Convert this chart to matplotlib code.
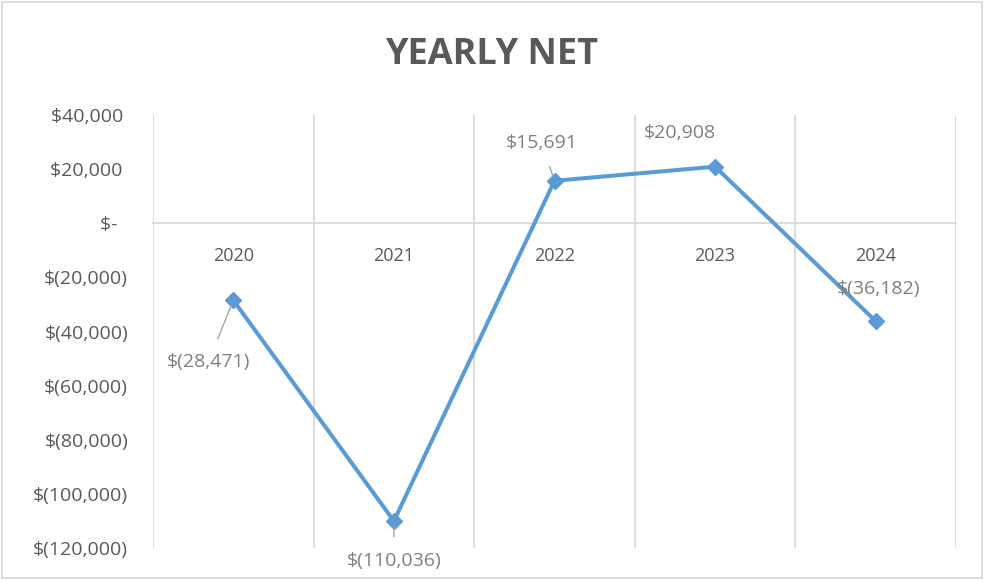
import matplotlib.pyplot as plt
from matplotlib.patches import Rectangle
from matplotlib.ticker import FuncFormatter, FixedLocator

plt.rcParams["font.family"] = ["Open Sans", "DejaVu Sans"]

years = ["2020", "2021", "2022", "2023", "2024"]
net = [-28471, -110036, 15691, 20908, -36182]
# label offsets (pixels) relative to each point, and whether a leader line is drawn
label_offsets = [(-25, -62), (0, -40), (-13, 38), (-35, 34), (3, 32)]
leader = [True, True, True, False, False]

line_blue = "#5B9BD5"
grid_gray = "#D9D9D9"
text_gray = "#595959"
label_gray = "#7F7F7F"


def money(v, pos=None):
    if v == 0:
        return "$-  "
    if v < 0:
        return "$({:,.0f})".format(-v)
    return "${:,.0f} ".format(v)


fig = plt.figure(figsize=(9.84, 5.8), dpi=100)
ax = fig.add_axes([153 / 984, 1 - 548 / 580, (956 - 153) / 984, (548 - 115) / 580])

x = list(range(len(years)))
ax.plot(x, net, color=line_blue, linewidth=2.9, marker="D", markersize=8,
        zorder=3, solid_joinstyle="miter")

for xi, v, off, ld in zip(x, net, label_offsets, leader):
    props = None
    if ld:
        props = dict(arrowstyle="-", color="#A6A6A6", lw=1, shrinkA=9, shrinkB=4)
    ax.annotate(money(v).strip(), xy=(xi, v), xytext=off, textcoords="offset pixels",
                ha="center", va="center", fontsize=14, color=label_gray,
                arrowprops=props, zorder=4)

ax.set_xlim(-0.5, len(years) - 0.5)
ax.set_ylim(-120000, 40000)
ax.yaxis.set_major_locator(FixedLocator(range(-120000, 40001, 20000)))
ax.yaxis.set_major_formatter(FuncFormatter(money))
ax.tick_params(axis="y", length=0, pad=18, labelsize=14, labelcolor=text_gray)

ax.set_xticks(x)
ax.set_xticklabels(years)
ax.set_xticks([i - 0.5 for i in range(len(years) + 1)], minor=True)
ax.tick_params(axis="x", which="both", length=0, pad=17, labelsize=13, labelcolor=text_gray)
ax.grid(True, which="minor", axis="x", color=grid_gray, linewidth=1.3)
ax.grid(False, which="major")

for s in ["left", "right", "top"]:
    ax.spines[s].set_visible(False)
ax.spines["bottom"].set_position(("data", 0))
ax.spines["bottom"].set_color(grid_gray)
ax.spines["bottom"].set_linewidth(1.3)
ax.set_axisbelow(True)

fig.text(0.5, 1 - 55 / 580, "YEARLY NET", ha="center", va="center",
         fontsize=26, fontweight="bold", color=text_gray)

fig.patches.append(Rectangle((2 / 984, 2 / 580), 980 / 984, 576 / 580,
                             transform=fig.transFigure, fill=False,
                             edgecolor=grid_gray, linewidth=1.3))

fig.savefig("out.png", dpi=100)
